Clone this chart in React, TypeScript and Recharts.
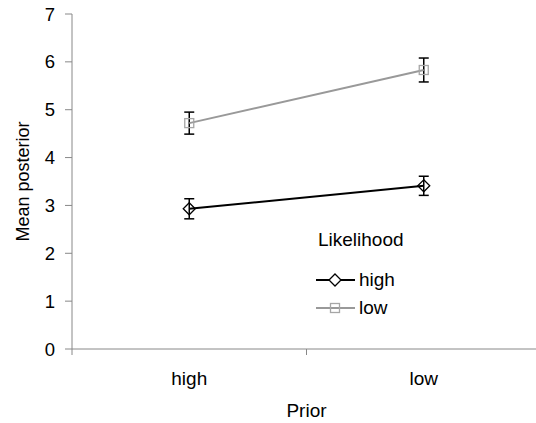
import { LineChart, Line, XAxis, YAxis, ErrorBar } from "recharts"

// Prior categories on the x axis
const categories = ["high", "low"]
// Mean posterior per prior, one series per likelihood level
const highLikelihood = [2.93, 3.41]
const highLikelihoodErr = [0.21, 0.2]
const lowLikelihood = [4.72, 5.83]
const lowLikelihoodErr = [0.23, 0.25]
const yTicks = [0, 1, 2, 3, 4, 5, 6, 7]
// band edges get tick marks, band centres get the category label
const xTicks = [0, 0.5, 1, 1.5, 2]

const data = categories.map((name, i) => ({
  x: i + 0.5,
  name,
  high: highLikelihood[i],
  highErr: highLikelihoodErr[i],
  low: lowLikelihood[i],
  lowErr: lowLikelihoodErr[i],
}))

const AXIS = "#888888"
const GRAY = "#999999"
const FONT = "'Liberation Sans', Arial, sans-serif"

const XTick = (props: any) => {
  const { x, y, payload } = props
  const v = payload.value
  if (Number.isInteger(v)) {
    return <line x1={x} x2={x} y1={y} y2={y + 6} stroke={AXIS} />
  }
  const label = categories[Math.floor(v)]
  return (
    <text x={x} y={y + 36} textAnchor="middle" fontSize={19} fill="#000">
      {label}
    </text>
  )
}

const Diamond = (props: any) => {
  const { cx, cy, index } = props
  const r = 6
  return (
    <path
      key={`d-${index}`}
      d={`M${cx},${cy - r} L${cx + r},${cy} L${cx},${cy + r} L${cx - r},${cy} Z`}
      fill="none"
      stroke="#000"
      strokeWidth={1.3}
    />
  )
}

const Square = (props: any) => {
  const { cx, cy, index } = props
  const r = 4.5
  return (
    <rect
      key={`s-${index}`}
      x={cx - r}
      y={cy - r}
      width={r * 2}
      height={r * 2}
      fill="none"
      stroke="#a6a6a6"
      strokeWidth={1.3}
    />
  )
}

export default function App() {
  return (
    <div
      style={{
        position: "absolute",
        left: 0,
        top: 0,
        width: 536,
        height: 423,
        overflow: "hidden",
        background: "#fff",
        fontFamily: FONT,
      }}
    >
      <LineChart
        width={560}
        height={423}
        data={data}
        margin={{ top: 14, right: 19, bottom: 0, left: 12 }}
      >
        <XAxis
          dataKey="x"
          type="number"
          domain={[0, 2]}
          ticks={xTicks}
          tick={<XTick />}
          tickLine={false}
          tickSize={0}
          tickMargin={0}
          height={74}
          stroke={AXIS}
          interval={0}
          label={{ value: "Prior", position: "insideBottom", offset: 6, fontSize: 19, fill: "#000" }}
        />
        <YAxis
          domain={[0, 7]}
          ticks={yTicks}
          width={60}
          stroke={AXIS}
          tickSize={7}
          tickMargin={10}
          interval={0}
          tick={{ fill: "#000", fontSize: 18.5 }}
          label={{
            value: "Mean posterior",
            angle: -90,
            position: "insideLeft",
            offset: 11,
            fontSize: 18,
            fill: "#000",
            style: { textAnchor: "middle" },
          }}
        />
        <Line
          dataKey="low"
          stroke={GRAY}
          strokeWidth={2}
          dot={<Square />}
          isAnimationActive={false}
        >
          <ErrorBar dataKey="lowErr" width={5} stroke="#000" strokeWidth={1.5} direction="y" />
        </Line>
        <Line
          dataKey="high"
          stroke="#000"
          strokeWidth={2}
          dot={<Diamond />}
          isAnimationActive={false}
        >
          <ErrorBar dataKey="highErr" width={5} stroke="#000" strokeWidth={1.5} direction="y" />
        </Line>
      </LineChart>

      <div style={{ position: "absolute", left: 318, top: 229, fontSize: 19, color: "#000" }}>
        Likelihood
      </div>
      <div style={{ position: "absolute", left: 316, top: 266, fontSize: 19, color: "#000" }}>
        <div style={{ display: "flex", alignItems: "center", height: 28 }}>
          <svg width={40} height={16}>
            <line x1={0} x2={39} y1={8} y2={8} stroke="#000" strokeWidth={2} />
            <path d="M19,2 L25,8 L19,14 L13,8 Z" fill="#fff" stroke="#000" strokeWidth={1.3} />
          </svg>
          <span style={{ marginLeft: 3 }}>high</span>
        </div>
        <div style={{ display: "flex", alignItems: "center", height: 28 }}>
          <svg width={40} height={16}>
            <line x1={0} x2={39} y1={8} y2={8} stroke={GRAY} strokeWidth={2} />
            <rect x={14.5} y={3.5} width={9} height={9} fill="none" stroke="#a6a6a6" strokeWidth={1.3} />
          </svg>
          <span style={{ marginLeft: 3 }}>low</span>
        </div>
      </div>
    </div>
  )
}
